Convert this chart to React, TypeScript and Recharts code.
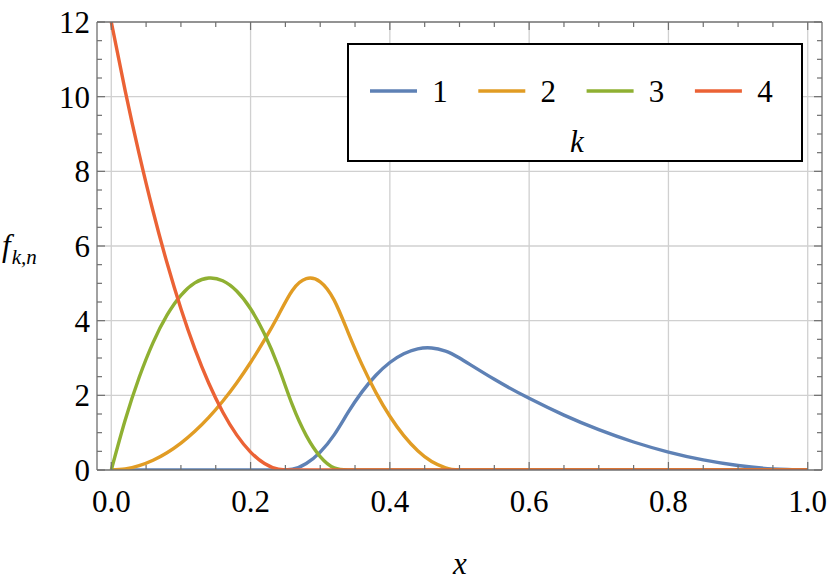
import React from 'react';
import { LineChart, Line, XAxis, YAxis, CartesianGrid, Legend } from 'recharts';

const xValues = [0, 0.02, 0.04, 0.06, 0.08, 0.1, 0.12, 0.14, 0.16, 0.18, 0.2, 0.22, 0.24, 0.26, 0.28, 0.3, 0.32, 0.34, 0.36, 0.38, 0.4, 0.42, 0.44, 0.46, 0.48, 0.5, 0.55, 0.6, 0.65, 0.7, 0.75, 0.8, 0.85, 0.9, 0.95, 1.0];

const seriesNames = ['1', '2', '3', '4'];
const seriesColors = ['#5E81B5', '#E19C24', '#8FB032', '#EB6235'];

const f1 = [0, 0, 0, 0, 0, 0, 0, 0, 0, 0, 0, 0, 0,
  0.019, 0.173, 0.48, 0.941, 1.541, 2.093, 2.539, 2.88, 3.115, 3.245, 3.269, 3.187, 3.0,
  2.43, 1.92, 1.47, 1.08, 0.75, 0.48, 0.27, 0.12, 0.03, 0];
const f2 = [0, 0.029, 0.115, 0.259, 0.461, 0.72, 1.037, 1.411, 1.843, 2.333, 2.88, 3.485, 4.147,
  4.81, 5.126, 5.04, 4.55, 3.686, 2.822, 2.074, 1.44, 0.922, 0.518, 0.23, 0.058, 0,
  0, 0, 0, 0, 0, 0, 0, 0, 0, 0];
const f3 = [0, 1.339, 2.477, 3.413, 4.147, 4.68, 5.011, 5.141, 5.069, 4.795, 4.32, 3.643, 2.765,
  1.742, 0.922, 0.36, 0.058, 0, 0, 0, 0, 0, 0, 0, 0, 0,
  0, 0, 0, 0, 0, 0, 0, 0, 0, 0];
const f4 = [12, 10.157, 8.467, 6.931, 5.549, 4.32, 3.245, 2.323, 1.555, 0.941, 0.48, 0.173, 0.019,
  0, 0, 0, 0, 0, 0, 0, 0, 0, 0, 0, 0, 0,
  0, 0, 0, 0, 0, 0, 0, 0, 0, 0];

const xMajorTicks = [0, 0.2, 0.4, 0.6, 0.8, 1.0];
const xAllTicks = [0, 0.05, 0.1, 0.15, 0.2, 0.25, 0.3, 0.35, 0.4, 0.45, 0.5, 0.55, 0.6, 0.65, 0.7, 0.75, 0.8, 0.85, 0.9, 0.95, 1.0];
const yMajorTicks = [0, 2, 4, 6, 8, 10, 12];
const yAllTicks = [0, 0.5, 1, 1.5, 2, 2.5, 3, 3.5, 4, 4.5, 5, 5.5, 6, 6.5, 7, 7.5, 8, 8.5, 9, 9.5, 10, 10.5, 11, 11.5, 12];
const yGridValues = [2, 4, 6, 8, 10];

const data = xValues.map((x, i) => ({ x, k1: f1[i], k2: f2[i], k3: f3[i], k4: f4[i] }));

const FRAME = '#6f6f6f';

const CSS = `
.recharts-wrapper text, .recharts-wrapper tspan, .recharts-legend-wrapper text {
  font-family: 'Liberation Serif' !important;
}
.recharts-wrapper text.lm { font-size: 31px !important; font-style: normal !important; }
.recharts-wrapper text.lm-it { font-size: 31px !important; font-style: italic !important; }
.recharts-wrapper tspan.lm-sub { font-size: 21px !important; font-style: italic !important; }
`;

const isMajor = (v: number, majors: number[]) => majors.some((m) => Math.abs(m - v) < 1e-9);

function makeTick(side: 'bottom' | 'top' | 'left' | 'right', majors: number[], showLabels: boolean) {
  return (props: any) => {
    const { x, y, payload } = props;
    const v = payload.value as number;
    const major = isMajor(v, majors);
    const len = major ? 8 : 5;
    let line: any = null;
    let label: any = null;
    const common = { stroke: FRAME, strokeWidth: 1.2 };
    if (side === 'bottom') {
      line = <line x1={x} y1={y} x2={x} y2={y - len} {...common} />;
      if (showLabels && major)
        label = (
          <text className="lm" x={x} y={y + 42} textAnchor="middle" fontFamily="Liberation Serif" fontSize={31} fill="#000">
            {v.toFixed(1)}
          </text>
        );
    } else if (side === 'top') {
      line = <line x1={x} y1={y} x2={x} y2={y + len} {...common} />;
    } else if (side === 'left') {
      line = <line x1={x} y1={y} x2={x + len} y2={y} {...common} />;
      if (showLabels && major)
        label = (
          <text className="lm" x={x - 7} y={y + 11} textAnchor="end" fontFamily="Liberation Serif" fontSize={31} fill="#000">
            {String(v)}
          </text>
        );
    } else {
      line = <line x1={x} y1={y} x2={x - len} y2={y} {...common} />;
    }
    return (
      <g>
        {line}
        {label}
      </g>
    );
  };
}

const LegendBox = (props: any) => {
  const payload = (props && props.payload) || [];
  return (
    <svg width={456} height={119} style={{ display: 'block' }}>
      <rect x={1} y={1} width={454} height={117} fill="#fff" stroke="#000" strokeWidth={2} />
      {payload.map((e: any, i: number) => {
        const x0 = 23 + i * 108.3;
        return (
          <g key={i}>
            <line x1={x0} x2={x0 + 47} y1={48} y2={48} stroke={e.color} strokeWidth={3.5} />
            <text className="lm" x={x0 + 70} y={59} textAnchor="middle" fontFamily="Liberation Serif" fontSize={31} fill="#000">
              {e.value}
            </text>
          </g>
        );
      })}
      <text className="lm-it" x={230} y={109} textAnchor="middle" fontFamily="Liberation Serif" fontStyle="italic" fontSize={31} fill="#000">
        k
      </text>
    </svg>
  );
};

const YLabel = () => (
  <text className="lm-it" x={2} y={256} fontFamily="Liberation Serif" fontStyle="italic" fontSize={31} fill="#000">
    f
    <tspan className="lm-sub" fontSize={21} dy={8} dx={1}>k,n</tspan>
  </text>
);

const XLabel = () => (
  <text className="lm-it" x={460} y={574} textAnchor="middle" fontFamily="Liberation Serif" fontStyle="italic" fontSize={31} fill="#000">
    x
  </text>
);

export default function App() {
  return (
    <div style={{ position: 'absolute', left: 0, top: 0, width: 830, height: 585, background: '#fff', fontFamily: 'Liberation Serif' }}>
      <style>{CSS}</style>
      <LineChart width={830} height={585} data={data} margin={{ top: 21, right: 7, bottom: 114, left: 96 }}>
        <CartesianGrid
          horizontal={true}
          vertical={true}
          horizontalValues={yGridValues}
          verticalValues={xMajorTicks}
          stroke="#d0d0d0"
          strokeWidth={1.3}
        />
        <XAxis
          dataKey="x"
          type="number"
          domain={[-0.0205, 1.0205]}
          allowDataOverflow
          ticks={xAllTicks}
          interval={0}
          height={1}
          tickSize={0}
          tickMargin={0}
          tickLine={false}
          axisLine={{ stroke: FRAME, strokeWidth: 1.3 }}
          tick={makeTick('bottom', xMajorTicks, true)}
          label={<XLabel />}
        />
        <XAxis
          xAxisId="top"
          orientation="top"
          dataKey="x"
          type="number"
          domain={[-0.0205, 1.0205]}
          allowDataOverflow
          ticks={xAllTicks}
          interval={0}
          height={1}
          tickSize={0}
          tickMargin={0}
          tickLine={false}
          axisLine={{ stroke: FRAME, strokeWidth: 1.3 }}
          tick={makeTick('top', xMajorTicks, false)}
        />
        <YAxis
          type="number"
          domain={[0, 12]}
          allowDataOverflow
          ticks={yAllTicks}
          interval={0}
          width={1}
          tickSize={0}
          tickMargin={0}
          tickLine={false}
          axisLine={{ stroke: FRAME, strokeWidth: 1.3 }}
          tick={makeTick('left', yMajorTicks, true)}
          label={<YLabel />}
        />
        <YAxis
          yAxisId="right"
          orientation="right"
          type="number"
          domain={[0, 12]}
          allowDataOverflow
          ticks={yAllTicks}
          interval={0}
          width={1}
          tickSize={0}
          tickMargin={0}
          tickLine={false}
          axisLine={{ stroke: FRAME, strokeWidth: 1.3 }}
          tick={makeTick('right', yMajorTicks, false)}
        />
        <Line type="natural" dataKey="k1" name={seriesNames[0]} stroke={seriesColors[0]} strokeWidth={3.4} dot={false} isAnimationActive={false} />
        <Line type="natural" dataKey="k2" name={seriesNames[1]} stroke={seriesColors[1]} strokeWidth={3.4} dot={false} isAnimationActive={false} />
        <Line type="natural" dataKey="k3" name={seriesNames[2]} stroke={seriesColors[2]} strokeWidth={3.4} dot={false} isAnimationActive={false} />
        <Line type="natural" dataKey="k4" name={seriesNames[3]} stroke={seriesColors[3]} strokeWidth={3.4} dot={false} isAnimationActive={false} />
        <Legend
          layout="horizontal"
          verticalAlign="middle"
          align="center"
          wrapperStyle={{ position: 'absolute', left: 347, top: 43, width: 456, height: 119 }}
          content={(p: any) => <LegendBox {...p} />}
        />
      </LineChart>
    </div>
  );
}
